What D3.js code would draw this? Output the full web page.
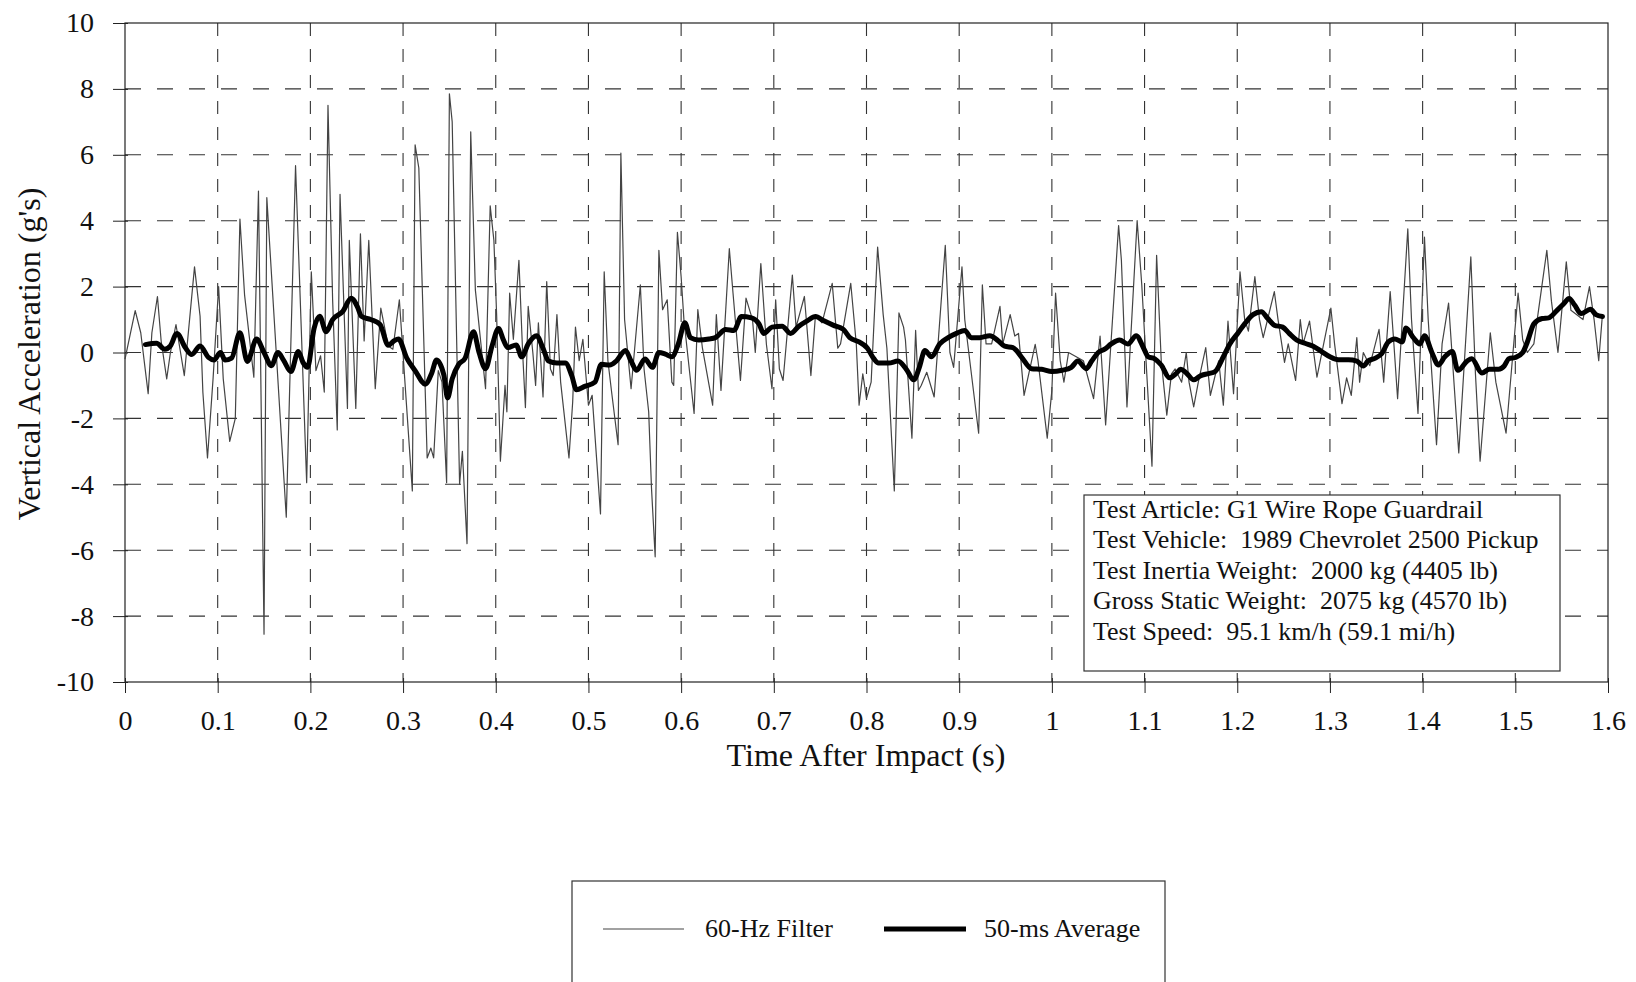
<!DOCTYPE html>
<html>
<head>
<meta charset="utf-8">
<script src="https://cdn.jsdelivr.net/npm/d3@7"></script>
<style>
  body { margin: 0; background: #fff; }
  svg text { font-family: "Liberation Serif", "Times New Roman", serif; fill: #111; }
</style>
</head>
<body>
<div id="chart"></div>
<script>
// 60-Hz filtered trace (time s, accel g's), peaks and troughs
const thinTime = [
  0.000, 0.011, 0.017, 0.025, 0.029, 0.035, 0.039, 0.045, 0.049, 0.055, 0.064, 0.075, 0.081, 0.084, 0.089,
  0.095, 0.101, 0.106, 0.113, 0.119, 0.124, 0.129, 0.139, 0.144, 0.150, 0.153, 0.174, 0.184, 0.196, 0.201,
  0.206, 0.211, 0.215, 0.219, 0.224, 0.229, 0.232, 0.240, 0.242, 0.249, 0.254, 0.258, 0.263, 0.270, 0.276,
  0.284, 0.289, 0.296, 0.310, 0.313, 0.317, 0.326, 0.330, 0.333, 0.338, 0.342, 0.347, 0.350, 0.353, 0.361,
  0.364, 0.369, 0.373, 0.378, 0.389, 0.394, 0.398, 0.401, 0.405, 0.410, 0.412, 0.415, 0.419, 0.425, 0.429,
  0.432, 0.435, 0.440, 0.443, 0.446, 0.451, 0.455, 0.459, 0.462, 0.466, 0.470, 0.479, 0.483, 0.486, 0.490,
  0.494, 0.500, 0.504, 0.513, 0.517, 0.521, 0.525, 0.532, 0.535, 0.539, 0.546, 0.556, 0.560, 0.565, 0.568,
  0.572, 0.576, 0.580, 0.585, 0.590, 0.592, 0.596, 0.600, 0.603, 0.614, 0.618, 0.623, 0.634, 0.638, 0.643,
  0.652, 0.656, 0.664, 0.670, 0.677, 0.680, 0.686, 0.692, 0.698, 0.702, 0.706, 0.710, 0.720, 0.724, 0.733,
  0.740, 0.745, 0.752, 0.763, 0.769, 0.772, 0.783, 0.789, 0.792, 0.796, 0.800, 0.805, 0.812, 0.818, 0.822,
  0.830, 0.835, 0.840, 0.842, 0.849, 0.853, 0.856, 0.859, 0.865, 0.873, 0.885, 0.890, 0.894, 0.903, 0.906,
  0.921, 0.925, 0.929, 0.935, 0.944, 0.947, 0.955, 0.960, 0.964, 0.970, 0.982, 0.985, 0.995, 1.000, 1.004,
  1.009, 1.013, 1.018, 1.034, 1.045, 1.052, 1.058, 1.072, 1.075, 1.081, 1.092, 1.097, 1.108, 1.113, 1.118,
  1.124, 1.129, 1.133, 1.140, 1.145, 1.148, 1.153, 1.158, 1.166, 1.171, 1.180, 1.185, 1.190, 1.196, 1.203,
  1.208, 1.212, 1.219, 1.224, 1.228, 1.240, 1.244, 1.251, 1.255, 1.263, 1.268, 1.271, 1.278, 1.286, 1.301,
  1.305, 1.313, 1.318, 1.323, 1.329, 1.332, 1.336, 1.343, 1.353, 1.358, 1.365, 1.369, 1.373, 1.384, 1.388,
  1.395, 1.402, 1.406, 1.415, 1.421, 1.428, 1.439, 1.452, 1.457, 1.462, 1.473, 1.479, 1.490, 1.503, 1.508,
  1.513, 1.520, 1.534, 1.539, 1.546, 1.555, 1.560, 1.573, 1.580, 1.585, 1.590, 1.594
];
const thinAccel = [
  -0.2, 1.27, 0.6, -1.25, 0.6, 1.7, 0.35, -0.8, 0.0, 0.85, -0.7, 2.6, 1.1, -1.2, -3.2,
  -0.8, 2.0, -0.8, -2.7, -2.0, 4.05, 1.75, -0.75, 4.9, -8.55, 4.7, -5.0, 5.67, -3.95, 2.45,
  -0.55, -0.1, -1.2, 7.5, 1.6, -2.35, 4.8, -1.7, 3.4, -1.7, 3.6, 0.35, 3.4, -1.1, 1.35,
  0.2, 0.1, 1.6, -4.2, 6.3, 5.6, -3.2, -2.9, -3.2, -0.55, -0.9, -3.95, 7.85, 7.0, -4.0,
  -3.0, -5.8, 6.7, 1.9, -1.1, 4.45, 3.4, 1.1, -3.3, -1.0, -1.8, 1.8, 0.4, 2.8, 0.0,
  -1.67, 1.4, 0.0, -1.0, 0.9, -1.35, 2.15, -0.5, -0.7, 1.15, -0.9, -3.2, -1.5, 0.77, -0.25,
  0.4, -1.6, -1.3, -4.9, 2.45, -0.25, -1.2, -2.8, 6.05, 1.0, -1.1, 2.05, -0.5, -1.8, -4.1,
  -6.2, 3.1, 1.3, 1.6, -0.9, -1.0, 3.65, 2.3, 1.0, -1.85, 1.3, 0.13, -1.6, 1.15, -1.15,
  3.15, 1.8, -0.85, 1.65, 1.0, 0.0, 2.7, 0.25, -1.1, 1.6, -0.5, -0.85, 2.35, 0.77, 1.7,
  -0.7, 1.15, 0.9, 2.1, 0.13, 0.26, 2.1, 0.26, -1.6, -0.65, -1.4, -0.9, 3.2, 1.15, 0.13,
  -4.2, 1.2, 0.77, 0.38, -2.6, 0.67, -1.15, -1.0, -0.6, -1.35, 3.25, 0.0, -0.45, 2.6, 1.0,
  -2.45, 2.05, 0.26, 0.26, 1.4, 0.26, 1.15, 0.5, 0.58, -1.3, 0.25, -0.25, -2.6, -1.15, 1.8,
  -0.25, -0.9, 0.0, -0.25, -1.4, 0.5, -2.2, 3.85, 2.8, -1.65, 4.0, 2.05, -3.45, 2.95, -0.25,
  -1.9, -0.65, -0.5, -0.9, 0.0, -0.9, -1.65, -0.9, 0.15, -1.3, -0.25, -1.6, 0.95, -1.25, 2.45,
  1.0, 0.65, 2.3, 1.0, 0.45, 1.85, 1.0, -0.3, 0.26, -0.85, 1.0, 0.26, 0.95, -0.75, 1.35,
  0.26, -1.55, -0.77, -1.3, 0.45, -0.9, 0.0, -0.4, 0.7, -0.9, 1.85, 0.26, -1.4, 3.75, 1.0,
  -1.85, 3.5, 1.0, -2.8, 0.26, 1.5, -3.05, 2.9, -0.65, -3.3, 0.6, -0.9, -2.45, 1.8, 0.38,
  0.0, 0.26, 3.1, 1.55, 0.0, 2.75, 1.28, 1.0, 2.0, 1.0, -0.25, 1.15
];

// 50-ms average trace
const avgTime = [
  0.022, 0.034, 0.043, 0.049, 0.056, 0.065, 0.072, 0.081, 0.090, 0.096, 0.103, 0.108, 0.115, 0.124, 0.132,
  0.142, 0.150, 0.158, 0.165, 0.171, 0.179, 0.187, 0.192, 0.197, 0.204, 0.210, 0.217, 0.224, 0.235, 0.244,
  0.251, 0.255, 0.265, 0.275, 0.284, 0.290, 0.295, 0.304, 0.313, 0.324, 0.331, 0.336, 0.344, 0.348, 0.353,
  0.360, 0.367, 0.376, 0.382, 0.389, 0.396, 0.403, 0.408, 0.413, 0.422, 0.428, 0.435, 0.444, 0.451, 0.457,
  0.466, 0.475, 0.482, 0.487, 0.496, 0.507, 0.514, 0.523, 0.530, 0.540, 0.546, 0.552, 0.561, 0.569, 0.576,
  0.583, 0.590, 0.597, 0.604, 0.610, 0.619, 0.630, 0.637, 0.648, 0.657, 0.665, 0.676, 0.684, 0.689, 0.698,
  0.709, 0.718, 0.727, 0.736, 0.745, 0.754, 0.764, 0.775, 0.782, 0.792, 0.801, 0.807, 0.813, 0.824, 0.834,
  0.843, 0.851, 0.857, 0.863, 0.870, 0.879, 0.888, 0.897, 0.906, 0.913, 0.922, 0.933, 0.942, 0.949, 0.958,
  0.967, 0.978, 0.989, 1.000, 1.011, 1.021, 1.028, 1.037, 1.043, 1.050, 1.057, 1.064, 1.073, 1.082, 1.091,
  1.099, 1.104, 1.111, 1.118, 1.127, 1.134, 1.139, 1.145, 1.153, 1.160, 1.169, 1.176, 1.185, 1.192, 1.201,
  1.208, 1.217, 1.226, 1.233, 1.240, 1.249, 1.256, 1.264, 1.273, 1.282, 1.291, 1.300, 1.309, 1.320, 1.329,
  1.336, 1.341, 1.349, 1.356, 1.363, 1.370, 1.378, 1.382, 1.390, 1.397, 1.402, 1.410, 1.417, 1.424, 1.432,
  1.438, 1.448, 1.453, 1.464, 1.472, 1.482, 1.488, 1.493, 1.500, 1.508, 1.513, 1.520, 1.529, 1.536, 1.545,
  1.552, 1.558, 1.564, 1.571, 1.581, 1.587, 1.594
];
const avgAccel = [
  0.24, 0.28, 0.10, 0.20, 0.58, 0.15, -0.06, 0.20, -0.15, -0.23, 0.0, -0.23, -0.17, 0.60, -0.27,
  0.41, 0.0, -0.40, 0.0, -0.23, -0.58, 0.03, -0.30, -0.45, 0.73, 1.10, 0.63, 1.0, 1.25, 1.65,
  1.37, 1.10, 1.0, 0.86, 0.22, 0.35, 0.41, -0.17, -0.55, -0.96, -0.62, -0.23, -0.68, -1.38, -0.80,
  -0.36, -0.17, 0.63, 0.0, -0.49, 0.20, 0.73, 0.40, 0.15, 0.23, -0.13, 0.26, 0.51, 0.13, -0.26,
  -0.32, -0.32, -0.70, -1.13, -1.03, -0.90, -0.36, -0.38, -0.26, 0.06, -0.26, -0.54, -0.20, -0.45, 0.0,
  -0.05, -0.13, 0.26, 0.90, 0.45, 0.38, 0.41, 0.45, 0.70, 0.67, 1.09, 1.05, 0.87, 0.58, 0.77,
  0.80, 0.58, 0.80, 0.96, 1.09, 0.96, 0.83, 0.70, 0.45, 0.32, 0.13, -0.15, -0.32, -0.32, -0.26,
  -0.51, -0.83, -0.45, 0.06, -0.13, 0.26, 0.45, 0.58, 0.67, 0.45, 0.45, 0.51, 0.36, 0.19, 0.15,
  -0.13, -0.49, -0.51, -0.58, -0.54, -0.45, -0.26, -0.49, -0.26, 0.0, 0.10, 0.26, 0.38, 0.26, 0.51,
  0.13, -0.13, -0.19, -0.38, -0.77, -0.64, -0.51, -0.62, -0.83, -0.71, -0.64, -0.58, -0.13, 0.26, 0.60,
  0.87, 1.15, 1.24, 1.03, 0.83, 0.77, 0.58, 0.38, 0.28, 0.19, 0.03, -0.13, -0.22, -0.22, -0.26,
  -0.41, -0.26, -0.17, -0.03, 0.32, 0.41, 0.32, 0.74, 0.45, 0.26, 0.51, 0.0, -0.38, -0.13, 0.03,
  -0.54, -0.26, -0.19, -0.62, -0.51, -0.51, -0.41, -0.19, -0.15, 0.0, 0.32, 0.87, 1.03, 1.05, 1.28,
  1.47, 1.64, 1.44, 1.18, 1.31, 1.15, 1.09
];

const xTicks = [0, 0.1, 0.2, 0.3, 0.4, 0.5, 0.6, 0.7, 0.8, 0.9, 1, 1.1, 1.2, 1.3, 1.4, 1.5, 1.6];
const xTickLabels = ["0", "0.1", "0.2", "0.3", "0.4", "0.5", "0.6", "0.7", "0.8", "0.9", "1", "1.1", "1.2", "1.3", "1.4", "1.5", "1.6"];
const yTicks = [-10, -8, -6, -4, -2, 0, 2, 4, 6, 8, 10];

const infoLines = [
  "Test Article: G1 Wire Rope Guardrail",
  "Test Vehicle:  1989 Chevrolet 2500 Pickup",
  "Test Inertia Weight:  2000 kg (4405 lb)",
  "Gross Static Weight:  2075 kg (4570 lb)",
  "Test Speed:  95.1 km/h (59.1 mi/h)"
];
const seriesNames = ["60-Hz Filter", "50-ms Average"];

const width = 1636, height = 982;
const x = d3.scaleLinear().domain([0, 1.6]).range([125, 1608]);
const y = d3.scaleLinear().domain([-10, 10]).range([682, 23]);

const svg = d3.select("#chart").append("svg")
  .attr("width", width).attr("height", height)
  .style("display", "block");

// dashed grid
const grid = svg.append("g").attr("stroke", "#333").attr("stroke-width", 1.1).attr("fill", "none");
grid.selectAll("line.vx")
  .data(xTicks.slice(1, -1))
  .join("line").attr("class", "vx")
  .attr("x1", d => x(d)).attr("x2", d => x(d))
  .attr("y1", y(10)).attr("y2", y(-10))
  .attr("stroke-dasharray", "13,13");
grid.selectAll("line.hy")
  .data(yTicks.slice(1, -1))
  .join("line").attr("class", "hy")
  .attr("x1", x(0)).attr("x2", x(1.6))
  .attr("y1", d => y(d)).attr("y2", d => y(d))
  .attr("stroke-dasharray", "16,16");

// plot border
svg.append("rect")
  .attr("x", x(0)).attr("y", y(10))
  .attr("width", x(1.6) - x(0)).attr("height", y(-10) - y(10))
  .attr("fill", "none").attr("stroke", "#222").attr("stroke-width", 1.2);

// axes
const xAxis = svg.append("g")
  .attr("transform", `translate(0,${y(-10)})`)
  .call(d3.axisBottom(x).tickValues(xTicks).tickFormat((d, i) => xTickLabels[i])
    .tickSizeInner(11).tickSizeOuter(0).tickPadding(17));
xAxis.select(".domain").remove();
xAxis.selectAll(".tick line").attr("y1", -4).attr("stroke", "#222");
xAxis.selectAll("text").style("font-size", "28px").attr("fill", "#111");

const yAxis = svg.append("g")
  .attr("transform", `translate(${x(0)},0)`)
  .call(d3.axisLeft(y).tickValues(yTicks).tickFormat(d => String(d))
    .tickSizeInner(12).tickSizeOuter(0).tickPadding(19));
yAxis.select(".domain").remove();
yAxis.selectAll(".tick line").attr("x1", 3).attr("stroke", "#222");
yAxis.selectAll("text").style("font-size", "28px").attr("fill", "#111");

// axis titles
svg.append("text")
  .attr("x", 866).attr("y", 766)
  .attr("text-anchor", "middle")
  .style("font-size", "32px")
  .text("Time After Impact (s)");

svg.append("text")
  .attr("transform", "rotate(-90)")
  .attr("x", -354).attr("y", 40)
  .attr("text-anchor", "middle")
  .style("font-size", "32px")
  .text("Vertical Acceleration (g's)");

// series
const thinData = thinTime.map((t, i) => [t, thinAccel[i]]);
const avgData = avgTime.map((t, i) => [t, avgAccel[i]]);
const line = d3.line().x(d => x(d[0])).y(d => y(d[1]));

svg.append("path")
  .datum(thinData)
  .attr("d", line)
  .attr("fill", "none")
  .attr("stroke", "#444")
  .attr("stroke-width", 1.2)
  .attr("stroke-linejoin", "round");

svg.append("path")
  .datum(avgData)
  .attr("d", line.curve(d3.curveMonotoneX))
  .attr("fill", "none")
  .attr("stroke", "#000")
  .attr("stroke-width", 5)
  .attr("stroke-linejoin", "round")
  .attr("stroke-linecap", "round");

// test info box
const info = svg.append("g");
info.append("rect")
  .attr("x", 1084).attr("y", 495).attr("width", 476).attr("height", 176)
  .attr("fill", "#fff").attr("stroke", "#333").attr("stroke-width", 1.2);
info.selectAll("text")
  .data(infoLines)
  .join("text")
  .attr("x", 1093)
  .attr("y", (d, i) => 518 + i * 30.4)
  .style("font-size", "26px")
  .style("white-space", "pre")
  .attr("xml:space", "preserve")
  .text(d => d);

// legend
const legend = svg.append("g");
legend.append("rect")
  .attr("x", 572).attr("y", 881).attr("width", 593).attr("height", 140)
  .attr("fill", "#fff").attr("stroke", "#333").attr("stroke-width", 1.2);
legend.append("line")
  .attr("x1", 603).attr("x2", 684).attr("y1", 929).attr("y2", 929)
  .attr("stroke", "#444").attr("stroke-width", 1.2);
legend.append("line")
  .attr("x1", 884).attr("x2", 966).attr("y1", 929).attr("y2", 929)
  .attr("stroke", "#000").attr("stroke-width", 5);
legend.selectAll("text")
  .data(seriesNames)
  .join("text")
  .attr("x", (d, i) => i === 0 ? 705 : 984)
  .attr("y", 937)
  .style("font-size", "26px")
  .text(d => d);
</script>
</body>
</html>
